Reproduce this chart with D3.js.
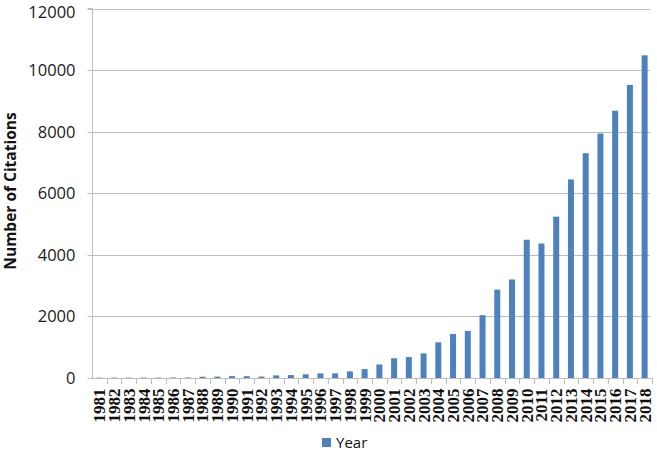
<!DOCTYPE html>
<html><head><meta charset="utf-8">
<script src="https://cdn.jsdelivr.net/npm/d3@7"></script>
<style>body{margin:0;background:#fff}</style>
</head><body>
<svg id="c" width="657" height="452"></svg>
<script>
const years = ["1981","1982","1983","1984","1985","1986","1987","1988","1989","1990","1991","1992","1993","1994","1995","1996","1997","1998","1999","2000","2001","2002","2003","2004","2005","2006","2007","2008","2009","2010","2011","2012","2013","2014","2015","2016","2017","2018"];
const citations = [10,12,12,14,14,15,18,40,45,60,60,45,85,95,120,150,150,215,290,440,640,680,800,1160,1430,1530,2040,2870,3200,4490,4370,5240,6450,7300,7940,8680,9520,10480];
const yTicks = [0,2000,4000,6000,8000,10000,12000];
const seriesName = "Year";
const yTitle = "Number of Citations";

const svg = d3.select("#c");
const x0 = 92, x1 = 652, yTop = 8.5, yBot = 378;
const xb = d3.scaleBand().domain(years).range([x0, x1]);
const y = d3.scaleLinear().domain([0, 12000]).range([yBot, yTop]);

// gridlines
svg.append("g").selectAll("line").data(yTicks.filter(d => d > 0)).join("line")
  .attr("x1", x0).attr("x2", 650).attr("y1", d => Math.round(y(d)) + 0.5).attr("y2", d => Math.round(y(d)) + 0.5)
  .attr("stroke", "#bdbdbd").attr("stroke-width", 1);

// y axis
const ya = svg.append("g").attr("transform", `translate(${x0 + 0.5},0)`)
  .call(d3.axisLeft(y).tickValues(yTicks).tickSize(5).tickPadding(12).tickFormat(d3.format("d")));
ya.select(".domain").attr("stroke", "#bdbdbd").attr("d", `M-5,${yTop}H0V${yBot}`);
ya.selectAll(".tick line").attr("stroke", "#bdbdbd");
ya.selectAll(".tick text").attr("font-family", "'Open Sans', sans-serif").attr("font-size", 16.5).attr("fill", "#1a1a1a")
  .attr("dy", d => d === 12000 ? "0.5em" : "0.36em");
ya.selectAll(".tick").attr("transform", d => `translate(0,${Math.round(y(d)) + 0.5})`);

// bars
svg.append("g").selectAll("rect").data(years).join("rect")
  .attr("x", (d) => xb(d) + xb.bandwidth() / 2 - 3)
  .attr("width", 6)
  .attr("y", (d, i) => y(citations[i]))
  .attr("height", (d, i) => yBot - y(citations[i]))
  .attr("fill", "#4f81bd");

// x axis
const xa = svg.append("g").attr("transform", `translate(0,${yBot + 0.5})`)
  .call(d3.axisBottom(xb).tickSize(0).tickPadding(0));
xa.select(".domain").attr("stroke", "#bdbdbd").attr("d", `M${x0},0H${x1}`);
svg.append("g").selectAll("line").data(years).join("line")
  .attr("x1", d => Math.round(xb(d) + xb.bandwidth()) + 0.5).attr("x2", d => Math.round(xb(d) + xb.bandwidth()) + 0.5)
  .attr("y1", yBot).attr("y2", yBot + 6).attr("stroke", "#bdbdbd");
xa.selectAll(".tick text")
  .attr("transform", "rotate(-90)")
  .attr("text-anchor", "end")
  .attr("dy", "0.35em")
  .attr("x", -10).attr("y", 0)
  .attr("font-family", "'Liberation Serif', serif")
  .attr("font-weight", "bold")
  .attr("font-size", 17)
  .attr("fill", "#111");

// y title
svg.append("text").attr("transform", "translate(15.5,191) rotate(-90)")
  .attr("text-anchor", "middle").attr("font-family", "'Open Sans', sans-serif").attr("font-weight", "bold")
  .attr("font-size", 15.5).attr("fill", "#111").text(yTitle);

// legend
const lg = svg.append("g").attr("transform", "translate(322,438)");
lg.append("rect").attr("width", 9).attr("height", 9).attr("fill", "#4f81bd");
lg.append("text").attr("x", 14).attr("y", 9.5).attr("font-family", "'Open Sans', sans-serif")
  .attr("font-size", 15).attr("fill", "#111").text(seriesName);
</script>
</body></html>
